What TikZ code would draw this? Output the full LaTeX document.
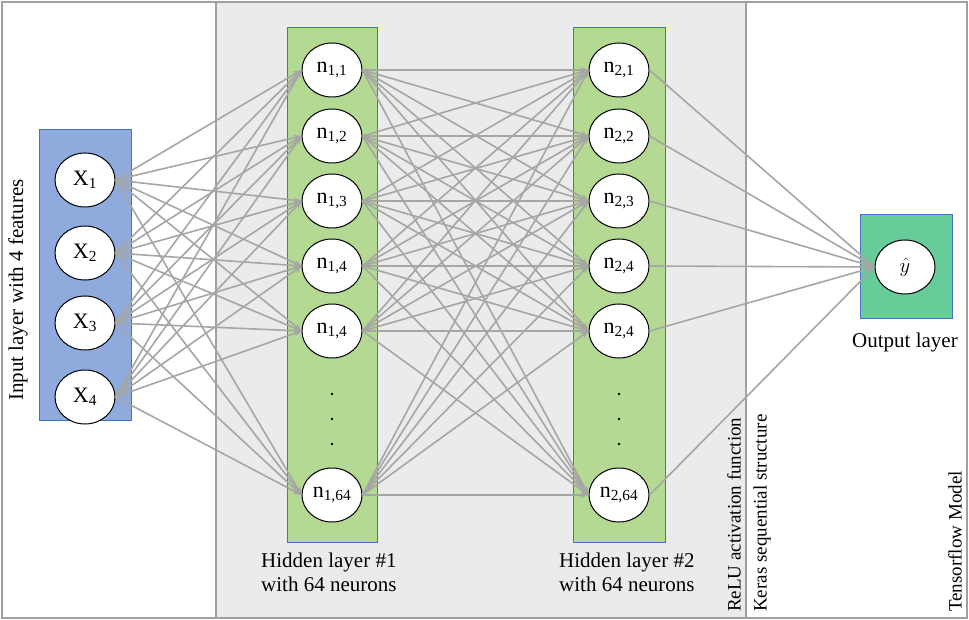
\documentclass[tikz,border=0pt]{standalone}
\usepackage{fontspec}
\setmainfont{Liberation Serif}
\usepackage{tikz}
\usetikzlibrary{shapes.geometric,arrows.meta}
\definecolor{framegray}{HTML}{A0A0A0}
\definecolor{areagray}{HTML}{EBEBEB}
\definecolor{linkgray}{HTML}{A6A6A6}
\definecolor{boxedge}{HTML}{4472C4}
\definecolor{inblue}{HTML}{8FAADC}
\definecolor{hidgreen}{HTML}{B4D992}
\definecolor{outgreen}{HTML}{66CC99}
\newcommand{\bigtext}{\fontsize{21}{24}\selectfont}
\begin{document}
\begin{tikzpicture}[x=1pt, y=-1pt,
    layerbox/.style={draw=boxedge, line width=0.9pt, inner sep=0pt},
    neuron/.style={ellipse, draw=black, line width=1pt, fill=white,
        minimum width=60pt, minimum height=54pt, inner sep=0pt, font=\fontsize{22}{24}\selectfont},
    link/.style={draw=linkgray, line width=1.6pt, -{Stealth[length=8pt,width=6pt]}},
    framelabel/.style={rotate=90, anchor=west, inner sep=0pt, font=\fontsize{19}{22}\selectfont},
    layerlabel/.style={align=left, inner sep=0pt, font=\bigtext}]
    \useasboundingbox (0,0) rectangle (969,620);
    % frames
    \fill[areagray] (216,2) rectangle (746,618);
    \draw[framegray, line width=1.5pt] (2,2) rectangle (967,618);
    \draw[framegray, line width=1.5pt] (216,2) -- (216,618) (746,2) -- (746,618);
    % layer boxes
    \node[layerbox, fill=inblue, minimum width=92pt, minimum height=291pt] (inbox) at (85,274.5) {};
    \node[layerbox, fill=hidgreen, minimum width=90pt, minimum height=515pt] (hidA) at (332,284.5) {};
    \node[layerbox, fill=hidgreen, minimum width=92pt, minimum height=515pt] (hidB) at (619,284.5) {};
    \node[layerbox, fill=outgreen, minimum width=92pt, minimum height=104pt] (outbox) at (906,266) {};
    % neurons
    \foreach \k/\yy in {1/180,2/253,3/323,4/397}
        \node[neuron] (x\k) at (85,\yy) {X\textsubscript{\k}};
    \foreach \k/\yy/\lab in {1/70/{1,1},2/136/{1,2},3/201/{1,3},4/266/{1,4},5/331/{1,4},6/495/{1,64}}
        \node[neuron] (a\k) at (332,\yy) {n\textsubscript{\lab}};
    \foreach \k/\yy/\lab in {1/70/{2,1},2/136/{2,2},3/201/{2,3},4/266/{2,4},5/331/{2,4},6/495/{2,64}}
        \node[neuron] (b\k) at (619,\yy) {n\textsubscript{\lab}};
    \node[neuron] (yhat) at (905,267) {$\hat{y}$};
    \foreach \yy in {394,419,444} {
        \fill (332,\yy) circle (1.4pt);
        \fill (619,\yy) circle (1.4pt);
    }
    % connections
    \foreach \i in {1,...,4}
        \foreach \j in {1,...,6}
            \draw[link] (x\i.east) -- (a\j.west);
    \foreach \i in {1,...,6}
        \foreach \j in {1,...,6}
            \draw[link] (a\i.east) -- (b\j.west);
    \foreach \i in {1,...,6}
        \draw[link] (b\i.east) -- (yhat.west);
    % labels
    \node[rotate=90, inner sep=0pt, font=\bigtext] (inlabel) at (18,290) {Input layer with 4 features};
    \node[layerlabel, anchor=west] (hidAlabel) at (261,572) {Hidden layer \#1\\with 64 neurons};
    \node[layerlabel, anchor=west] (hidBlabel) at (559,572) {Hidden layer \#2\\with 64 neurons};
    \node[inner sep=0pt, font=\bigtext] (outlabel) at (905,342) {Output layer};
    \node[framelabel] (relulabel) at (734,612) {ReLU activation function};
    \node[framelabel] (keraslabel) at (762,612) {Keras sequential structure};
    \node[framelabel] (tflabel) at (955,612) {Tensorflow Model};
\end{tikzpicture}
\end{document}
